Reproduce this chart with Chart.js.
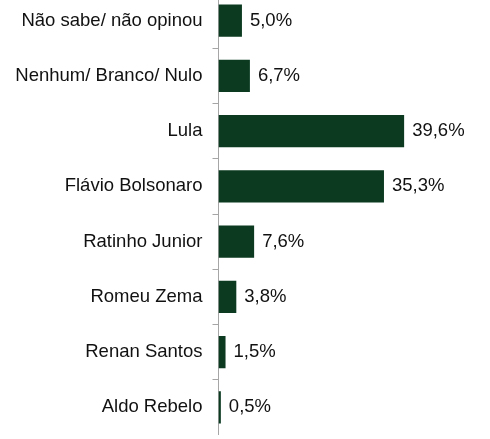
<!DOCTYPE html>
<html>
<head>
<meta charset="utf-8">
<script src="https://cdn.jsdelivr.net/npm/chart.js@4"></script>
<style>
  html, body { margin: 0; padding: 0; background: #fff; overflow: hidden; }
  #wrap { position: absolute; left: 0; top: -7px; width: 490px; height: 442px; }
</style>
</head>
<body>
<div id="wrap"><canvas id="grafica"></canvas></div>
<script>
const candidatos = ['Não sabe/ não opinou', 'Nenhum/ Branco/ Nulo', 'Lula', 'Flávio Bolsonaro',
    'Ratinho Junior', 'Romeu Zema', 'Renan Santos', 'Aldo Rebelo'];
const percentuais = [5.0, 6.7, 39.6, 35.3, 7.6, 3.8, 1.5, 0.5];

const fonte = { family: '"Liberation Sans", Arial, sans-serif', size: 18.5 };

// Rótulos de valor à direita das barras
const rotulosValor = {
    id: 'rotulosValor',
    afterDatasetsDraw(chart) {
        const ctx = chart.ctx;
        const meta = chart.getDatasetMeta(0);
        ctx.save();
        ctx.font = fonte.size + 'px ' + fonte.family;
        ctx.fillStyle = '#111';
        ctx.textAlign = 'left';
        ctx.textBaseline = 'middle';
        meta.data.forEach((bar, i) => {
            const txt = percentuais[i].toFixed(1).replace('.', ',') + '%';
            ctx.fillText(txt, bar.x + 8, bar.y);
        });
        ctx.restore();
    }
};

new Chart(document.getElementById('grafica'), {
    type: 'bar',
    data: {
        labels: candidatos,
        datasets: [{
            data: percentuais,
            backgroundColor: '#0b3a20',
            borderWidth: 0,
            barPercentage: 0.58,
            categoryPercentage: 1
        }]
    },
    options: {
        indexAxis: 'y',
        responsive: true,
        maintainAspectRatio: false,
        animation: false,
        layout: { padding: { left: 0, right: 9, top: 0, bottom: 0 } },
        plugins: {
            legend: { display: false },
            tooltip: { enabled: false }
        },
        scales: {
            x: { display: false, min: 0, max: 56 },
            y: {
                afterFit(scale) {
                    scale.width = 218.5;
                    scale.paddingTop = 0;
                    scale.paddingBottom = 0;
                },
                grid: {
                    offset: true,
                    drawOnChartArea: false,
                    drawTicks: true,
                    tickLength: 6,
                    color: '#a6a6a6'
                },
                border: { display: true, color: '#a6a6a6', width: 1 },
                ticks: { color: '#111', font: fonte, padding: 10 }
            }
        }
    },
    plugins: [rotulosValor]
});
</script>
</body>
</html>
